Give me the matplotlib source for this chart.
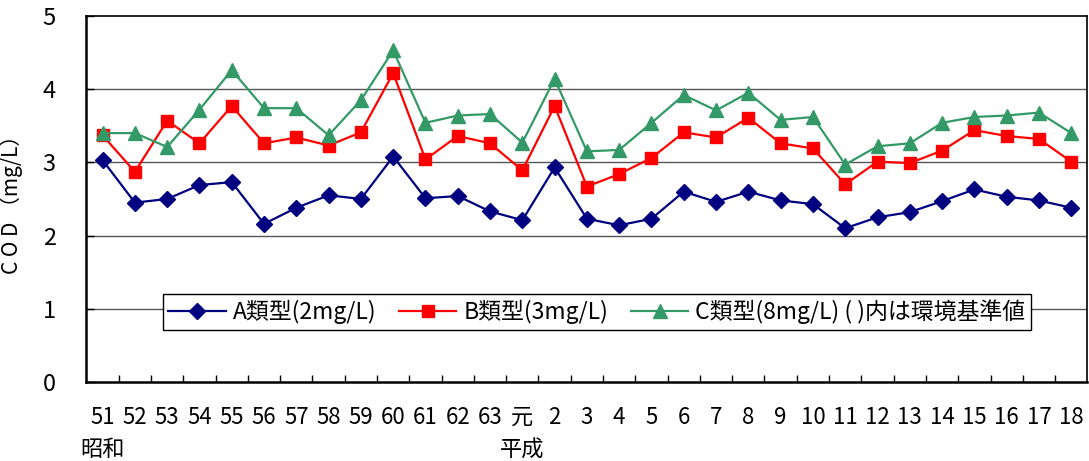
import matplotlib
matplotlib.use("Agg")
import matplotlib.pyplot as plt
from matplotlib.ticker import FixedLocator
from matplotlib.transforms import blended_transform_factory

plt.rcParams['font.family'] = ['Noto Sans CJK JP', 'DejaVu Sans']

# 年度（昭和51年〜平成18年）
years = ['51', '52', '53', '54', '55', '56', '57', '58', '59', '60', '61', '62', '63',
         '元', '2', '3', '4', '5', '6', '7', '8', '9', '10', '11', '12', '13', '14',
         '15', '16', '17', '18']

# COD (mg/L)
cod_a = [3.03, 2.45, 2.50, 2.69, 2.73, 2.16, 2.38, 2.55, 2.50, 3.08, 2.51, 2.54, 2.33,
         2.21, 2.93, 2.23, 2.14, 2.23, 2.60, 2.46, 2.60, 2.48, 2.43, 2.10, 2.25, 2.32,
         2.47, 2.63, 2.53, 2.48, 2.38]
cod_b = [3.37, 2.87, 3.57, 3.26, 3.77, 3.26, 3.34, 3.23, 3.41, 4.22, 3.04, 3.36, 3.26,
         2.89, 3.77, 2.67, 2.84, 3.06, 3.41, 3.34, 3.61, 3.26, 3.19, 2.70, 3.01, 2.99,
         3.16, 3.44, 3.36, 3.32, 3.01]
cod_c = [3.40, 3.40, 3.21, 3.72, 4.26, 3.74, 3.74, 3.37, 3.85, 4.53, 3.54, 3.64, 3.66,
         3.27, 4.14, 3.15, 3.17, 3.54, 3.92, 3.71, 3.95, 3.58, 3.62, 2.97, 3.22, 3.26,
         3.54, 3.62, 3.64, 3.68, 3.40]

labels = ['A類型(2mg/L)', 'B類型(3mg/L)', 'C類型(8mg/L) ( )内は環境基準値']
eras = [('昭和', 0), ('平成', 13)]

x = list(range(len(years)))

fig = plt.figure(figsize=(10.89, 4.61), dpi=100)
ax = fig.add_axes([0.0794, 0.1714, 0.9191, 0.794])

ax.plot(x, cod_a, color='#000080', lw=1.6, marker='D', ms=8, label=labels[0])
ax.plot(x, cod_b, color='#FF0000', lw=1.6, marker='s', ms=8, label=labels[1])
ax.plot(x, cod_c, color='#339966', lw=1.6, marker='^', ms=9.5, label=labels[2])

ax.set_xlim(-0.5, len(years) - 0.5)
ax.set_ylim(0, 5)
ax.set_yticks([0, 1, 2, 3, 4, 5])
ax.set_xticks(x)
ax.set_xticklabels(years)
ax.xaxis.set_minor_locator(FixedLocator([i + 0.5 for i in range(len(years) - 1)]))
ax.tick_params(axis='x', which='major', length=0, labelsize=16, pad=17)
ax.tick_params(axis='x', which='minor', direction='in', length=5, width=1)
ax.tick_params(axis='y', direction='in', length=6, width=1, labelsize=17, pad=22)

for v in [1, 2, 3, 4]:
    ax.axhline(v, color='#555555', lw=1, zorder=0)

for s in ['left', 'bottom']:
    ax.spines[s].set_linewidth(1.8)
for s in ['top', 'right']:
    ax.spines[s].set_linewidth(1.2)

ax.set_ylabel('C O D （mg/L）', fontsize=15, labelpad=14)

trans = blended_transform_factory(ax.transData, ax.transAxes)
for name, pos in eras:
    ax.text(pos, -0.185, name, transform=trans, ha='center', va='center', fontsize=16)

leg = ax.legend(loc='lower left', bbox_to_anchor=(0.076, 0.142), ncol=3, fontsize=16.5,
                frameon=True, fancybox=False, framealpha=1, edgecolor='black',
                handlelength=2.5, handletextpad=0.3, columnspacing=1.0,
                borderpad=0.25, borderaxespad=0)
leg.get_frame().set_linewidth(1)

fig.savefig('out.png', dpi=100)
